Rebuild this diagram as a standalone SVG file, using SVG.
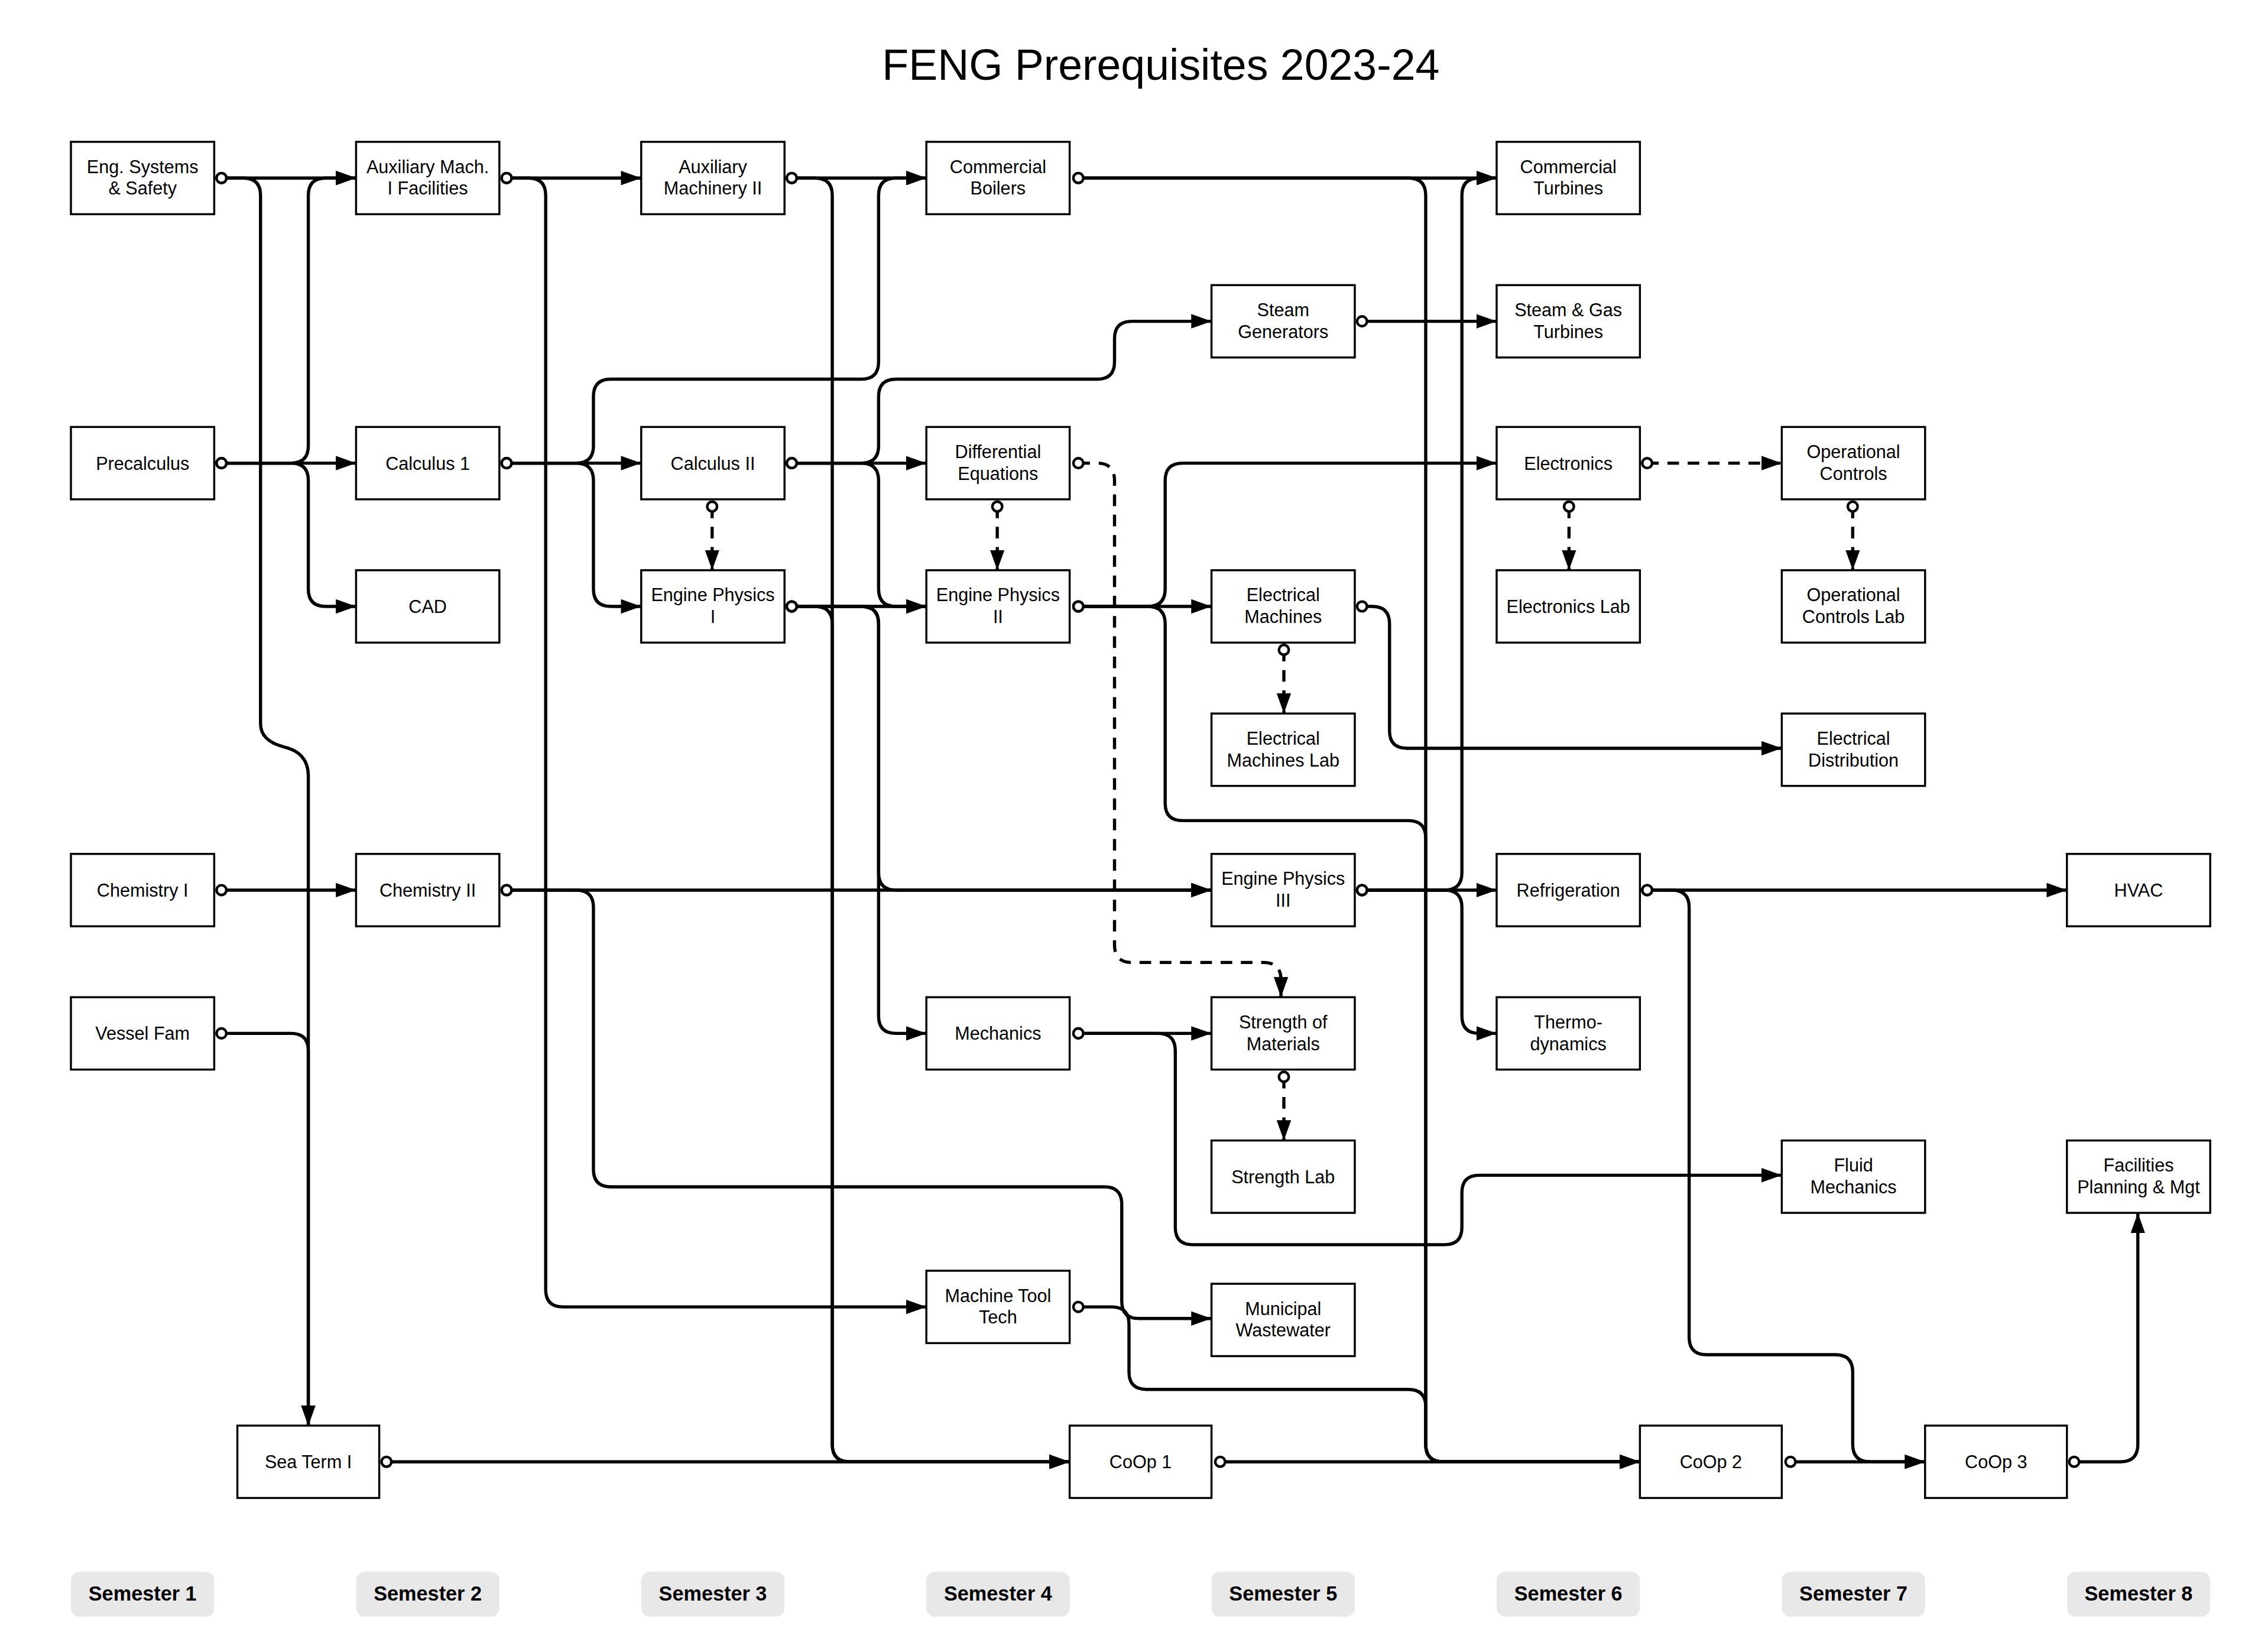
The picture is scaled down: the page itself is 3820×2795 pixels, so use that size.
<svg xmlns="http://www.w3.org/2000/svg" width="3820" height="2795" viewBox="0 0 3820 2795">
<style>
.n rect{fill:#fff;stroke:#000;stroke-width:1.4}
.n text,.t{font-family:"Liberation Sans",Arial,sans-serif;font-size:12.5px;text-anchor:middle;fill:#000}
.s rect{fill:#e8e8e8;stroke:none}
.s text{font-family:"Liberation Sans",Arial,sans-serif;font-size:14px;font-weight:bold;text-anchor:middle}
#edges path{fill:none;stroke:#000;stroke-width:2.2;marker-start:url(#dot);marker-end:url(#arr)}
#edges path.d{stroke-dasharray:8 6}
</style>
<defs>
<marker id="arr" viewBox="0 0 14 10" refX="14" refY="5" markerWidth="14" markerHeight="10" markerUnits="userSpaceOnUse" orient="auto"><path d="M0,0L14,5L0,10z" fill="#000"/></marker>
<marker id="dot" viewBox="0 0 10 10" refX="5" refY="5" markerWidth="10" markerHeight="10" markerUnits="userSpaceOnUse"><circle cx="5" cy="5" r="3.4" fill="#fff" stroke="#000" stroke-width="1.8"/></marker>
</defs>
<rect width="3820" height="2795" fill="#fff"/>
<g transform="scale(2.4487)">
<text class="t" x="802" y="55" style="font-size:30px">FENG Prerequisites 2023-24</text>
<g id="edges">
<path d="M153,123 H246"/>
<path d="M153,123 H168 Q180,123 180,135 V500 Q180,512 196,516 Q213,520 213,536 V985"/>
<path d="M153,320 H201 Q213,320 213,308 V135 Q213,123 225,123 H246"/>
<path d="M153,320 H246"/>
<path d="M153,320 H201 Q213,320 213,332 V407 Q213,419 225,419 H246"/>
<path d="M153,615 H246"/>
<path d="M153,714 H201 Q213,714 213,726 V985"/>
<path d="M350,123 H443"/>
<path d="M350,123 H365 Q377,123 377,135 V891 Q377,903 389,903 H640"/>
<path d="M350,320 H443"/>
<path d="M350,320 H398 Q410,320 410,332 V407 Q410,419 422,419 H443"/>
<path d="M350,320 H398 Q410,320 410,308 V274 Q410,262 422,262 H595 Q607,262 607,250 V135 Q607,123 619,123 H640"/>
<path d="M350,615 H837"/>
<path d="M350,615 H398 Q410,615 410,627 V808 Q410,820 422,820 H763 Q775,820 775,832 V899 Q775,911 787,911 H837"/>
<path d="M547,123 H640"/>
<path d="M547,123 H563 Q575,123 575,135 V998 Q575,1010 587,1010 H739"/>
<path d="M547,320 H640"/>
<path d="M547,320 H595 Q607,320 607,332 V407 Q607,419 619,419 H640"/>
<path d="M547,320 H595 Q607,320 607,308 V274 Q607,262 619,262 H758 Q770,262 770,250 V234 Q770,222 782,222 H837"/>
<path class="d" d="M492,350 V394"/>
<path d="M547,419 H640"/>
<path d="M547,419 H563 Q575,419 575,431 V998 Q575,1010 587,1010 H739"/>
<path d="M547,419 H595 Q607,419 607,431 V603 Q607,615 619,615 H837"/>
<path d="M547,419 H595 Q607,419 607,431 V702 Q607,714 619,714 H640"/>
<path class="d" d="M745,320 H758 Q770,320 770,332 V653 Q770,665 782,665 H873 Q885,665 885,677 V689"/>
<path class="d" d="M689,350 V394"/>
<path d="M745,123 H1034"/>
<path d="M745,123 H973 Q985,123 985,135 V998 Q985,1010 997,1010 H1133"/>
<path d="M941,222 H1034"/>
<path d="M745,419 H837"/>
<path d="M745,419 H793 Q805,419 805,407 V332 Q805,320 817,320 H1034"/>
<path d="M745,419 H793 Q805,419 805,431 V555 Q805,567 817,567 H973 Q985,567 985,579 V998 Q985,1010 997,1010 H1133"/>
<path class="d" d="M887,449 V493"/>
<path d="M941,419 H948 Q960,419 960,431 V505 Q960,517 972,517 H1231"/>
<path d="M941,615 H1034"/>
<path d="M941,615 H998 Q1010,615 1010,603 V135 Q1010,123 1022,123 H1034"/>
<path d="M941,615 H998 Q1010,615 1010,627 V702 Q1010,714 1022,714 H1034"/>
<path d="M745,714 H837"/>
<path d="M745,714 H800 Q812,714 812,726 V848 Q812,860 824,860 H998 Q1010,860 1010,848 V824 Q1010,812 1022,812 H1231"/>
<path class="d" d="M887,744 V788"/>
<path d="M745,903 H768 Q780,903 780,915 V948 Q780,960 792,960 H973 Q985,960 985,972 V998 Q985,1010 997,1010 H1133"/>
<path class="d" d="M1138,320 H1231"/>
<path class="d" d="M1084,350 V394"/>
<path class="d" d="M1280,350 V394"/>
<path d="M1138,615 H1428"/>
<path d="M1138,615 H1155 Q1167,615 1167,627 V924 Q1167,936 1179,936 H1268 Q1280,936 1280,948 V998 Q1280,1010 1292,1010 H1330"/>
<path d="M267,1010 H739"/>
<path d="M843,1010 H1133"/>
<path d="M1237,1010 H1330"/>
<path d="M1433,1010 H1465 Q1477,1010 1477,998 V838"/>
</g>
<g id="engsys" class="n"><rect x="49" y="98" width="99" height="50"/><text x="98.5" y="119.5">Eng. Systems</text><text x="98.5" y="134.5">&amp; Safety</text></g>
<g id="precalc" class="n"><rect x="49" y="295" width="99" height="50"/><text x="98.5" y="324.5">Precalculus</text></g>
<g id="chem1" class="n"><rect x="49" y="590" width="99" height="50"/><text x="98.5" y="619.5">Chemistry I</text></g>
<g id="vessel" class="n"><rect x="49" y="689" width="99" height="50"/><text x="98.5" y="718.5">Vessel Fam</text></g>
<g id="aux1" class="n"><rect x="246" y="98" width="99" height="50"/><text x="295.5" y="119.5">Auxiliary Mach.</text><text x="295.5" y="134.5">I Facilities</text></g>
<g id="calc1" class="n"><rect x="246" y="295" width="99" height="50"/><text x="295.5" y="324.5">Calculus 1</text></g>
<g id="cad" class="n"><rect x="246" y="394" width="99" height="50"/><text x="295.5" y="423.5">CAD</text></g>
<g id="chem2" class="n"><rect x="246" y="590" width="99" height="50"/><text x="295.5" y="619.5">Chemistry II</text></g>
<g id="seaterm" class="n"><rect x="164" y="985" width="98" height="50"/><text x="213" y="1014.5">Sea Term I</text></g>
<g id="aux2" class="n"><rect x="443" y="98" width="99" height="50"/><text x="492.5" y="119.5">Auxiliary</text><text x="492.5" y="134.5">Machinery II</text></g>
<g id="calc2" class="n"><rect x="443" y="295" width="99" height="50"/><text x="492.5" y="324.5">Calculus II</text></g>
<g id="ep1" class="n"><rect x="443" y="394" width="99" height="50"/><text x="492.5" y="415.5">Engine Physics</text><text x="492.5" y="430.5">I</text></g>
<g id="boilers" class="n"><rect x="640" y="98" width="99" height="50"/><text x="689.5" y="119.5">Commercial</text><text x="689.5" y="134.5">Boilers</text></g>
<g id="diffeq" class="n"><rect x="640" y="295" width="99" height="50"/><text x="689.5" y="316.5">Differential</text><text x="689.5" y="331.5">Equations</text></g>
<g id="ep2" class="n"><rect x="640" y="394" width="99" height="50"/><text x="689.5" y="415.5">Engine Physics</text><text x="689.5" y="430.5">II</text></g>
<g id="mech" class="n"><rect x="640" y="689" width="99" height="50"/><text x="689.5" y="718.5">Mechanics</text></g>
<g id="mtt" class="n"><rect x="640" y="878" width="99" height="50"/><text x="689.5" y="899.5">Machine Tool</text><text x="689.5" y="914.5">Tech</text></g>
<g id="coop1" class="n"><rect x="739" y="985" width="98" height="50"/><text x="788" y="1014.5">CoOp 1</text></g>
<g id="steamgen" class="n"><rect x="837" y="197" width="99" height="50"/><text x="886.5" y="218.5">Steam</text><text x="886.5" y="233.5">Generators</text></g>
<g id="elecmach" class="n"><rect x="837" y="394" width="99" height="50"/><text x="886.5" y="415.5">Electrical</text><text x="886.5" y="430.5">Machines</text></g>
<g id="elecmachlab" class="n"><rect x="837" y="493" width="99" height="50"/><text x="886.5" y="514.5">Electrical</text><text x="886.5" y="529.5">Machines Lab</text></g>
<g id="ep3" class="n"><rect x="837" y="590" width="99" height="50"/><text x="886.5" y="611.5">Engine Physics</text><text x="886.5" y="626.5">III</text></g>
<g id="strength" class="n"><rect x="837" y="689" width="99" height="50"/><text x="886.5" y="710.5">Strength of</text><text x="886.5" y="725.5">Materials</text></g>
<g id="strengthlab" class="n"><rect x="837" y="788" width="99" height="50"/><text x="886.5" y="817.5">Strength Lab</text></g>
<g id="muni" class="n"><rect x="837" y="887" width="99" height="50"/><text x="886.5" y="908.5">Municipal</text><text x="886.5" y="923.5">Wastewater</text></g>
<g id="comturb" class="n"><rect x="1034" y="98" width="99" height="50"/><text x="1083.5" y="119.5">Commercial</text><text x="1083.5" y="134.5">Turbines</text></g>
<g id="sgturb" class="n"><rect x="1034" y="197" width="99" height="50"/><text x="1083.5" y="218.5">Steam &amp; Gas</text><text x="1083.5" y="233.5">Turbines</text></g>
<g id="electronics" class="n"><rect x="1034" y="295" width="99" height="50"/><text x="1083.5" y="324.5">Electronics</text></g>
<g id="electronicslab" class="n"><rect x="1034" y="394" width="99" height="50"/><text x="1083.5" y="423.5">Electronics Lab</text></g>
<g id="refrig" class="n"><rect x="1034" y="590" width="99" height="50"/><text x="1083.5" y="619.5">Refrigeration</text></g>
<g id="thermo" class="n"><rect x="1034" y="689" width="99" height="50"/><text x="1083.5" y="710.5">Thermo-</text><text x="1083.5" y="725.5">dynamics</text></g>
<g id="coop2" class="n"><rect x="1133" y="985" width="98" height="50"/><text x="1182" y="1014.5">CoOp 2</text></g>
<g id="opctrl" class="n"><rect x="1231" y="295" width="99" height="50"/><text x="1280.5" y="316.5">Operational</text><text x="1280.5" y="331.5">Controls</text></g>
<g id="opctrllab" class="n"><rect x="1231" y="394" width="99" height="50"/><text x="1280.5" y="415.5">Operational</text><text x="1280.5" y="430.5">Controls Lab</text></g>
<g id="elecdist" class="n"><rect x="1231" y="493" width="99" height="50"/><text x="1280.5" y="514.5">Electrical</text><text x="1280.5" y="529.5">Distribution</text></g>
<g id="fluid" class="n"><rect x="1231" y="788" width="99" height="50"/><text x="1280.5" y="809.5">Fluid</text><text x="1280.5" y="824.5">Mechanics</text></g>
<g id="coop3" class="n"><rect x="1330" y="985" width="98" height="50"/><text x="1379" y="1014.5">CoOp 3</text></g>
<g id="hvac" class="n"><rect x="1428" y="590" width="99" height="50"/><text x="1477.5" y="619.5">HVAC</text></g>
<g id="facilities" class="n"><rect x="1428" y="788" width="99" height="50"/><text x="1477.5" y="809.5">Facilities</text><text x="1477.5" y="824.5">Planning &amp; Mgt</text></g>
<g id="semesters" class="s">
<rect x="49" y="1086" width="99" height="31" rx="6"/><text x="98.5" y="1106">Semester 1</text>
<rect x="246" y="1086" width="99" height="31" rx="6"/><text x="295.5" y="1106">Semester 2</text>
<rect x="443" y="1086" width="99" height="31" rx="6"/><text x="492.5" y="1106">Semester 3</text>
<rect x="640" y="1086" width="99" height="31" rx="6"/><text x="689.5" y="1106">Semester 4</text>
<rect x="837" y="1086" width="99" height="31" rx="6"/><text x="886.5" y="1106">Semester 5</text>
<rect x="1034" y="1086" width="99" height="31" rx="6"/><text x="1083.5" y="1106">Semester 6</text>
<rect x="1231" y="1086" width="99" height="31" rx="6"/><text x="1280.5" y="1106">Semester 7</text>
<rect x="1428" y="1086" width="99" height="31" rx="6"/><text x="1477.5" y="1106">Semester 8</text>
</g>
</g>
</svg>
